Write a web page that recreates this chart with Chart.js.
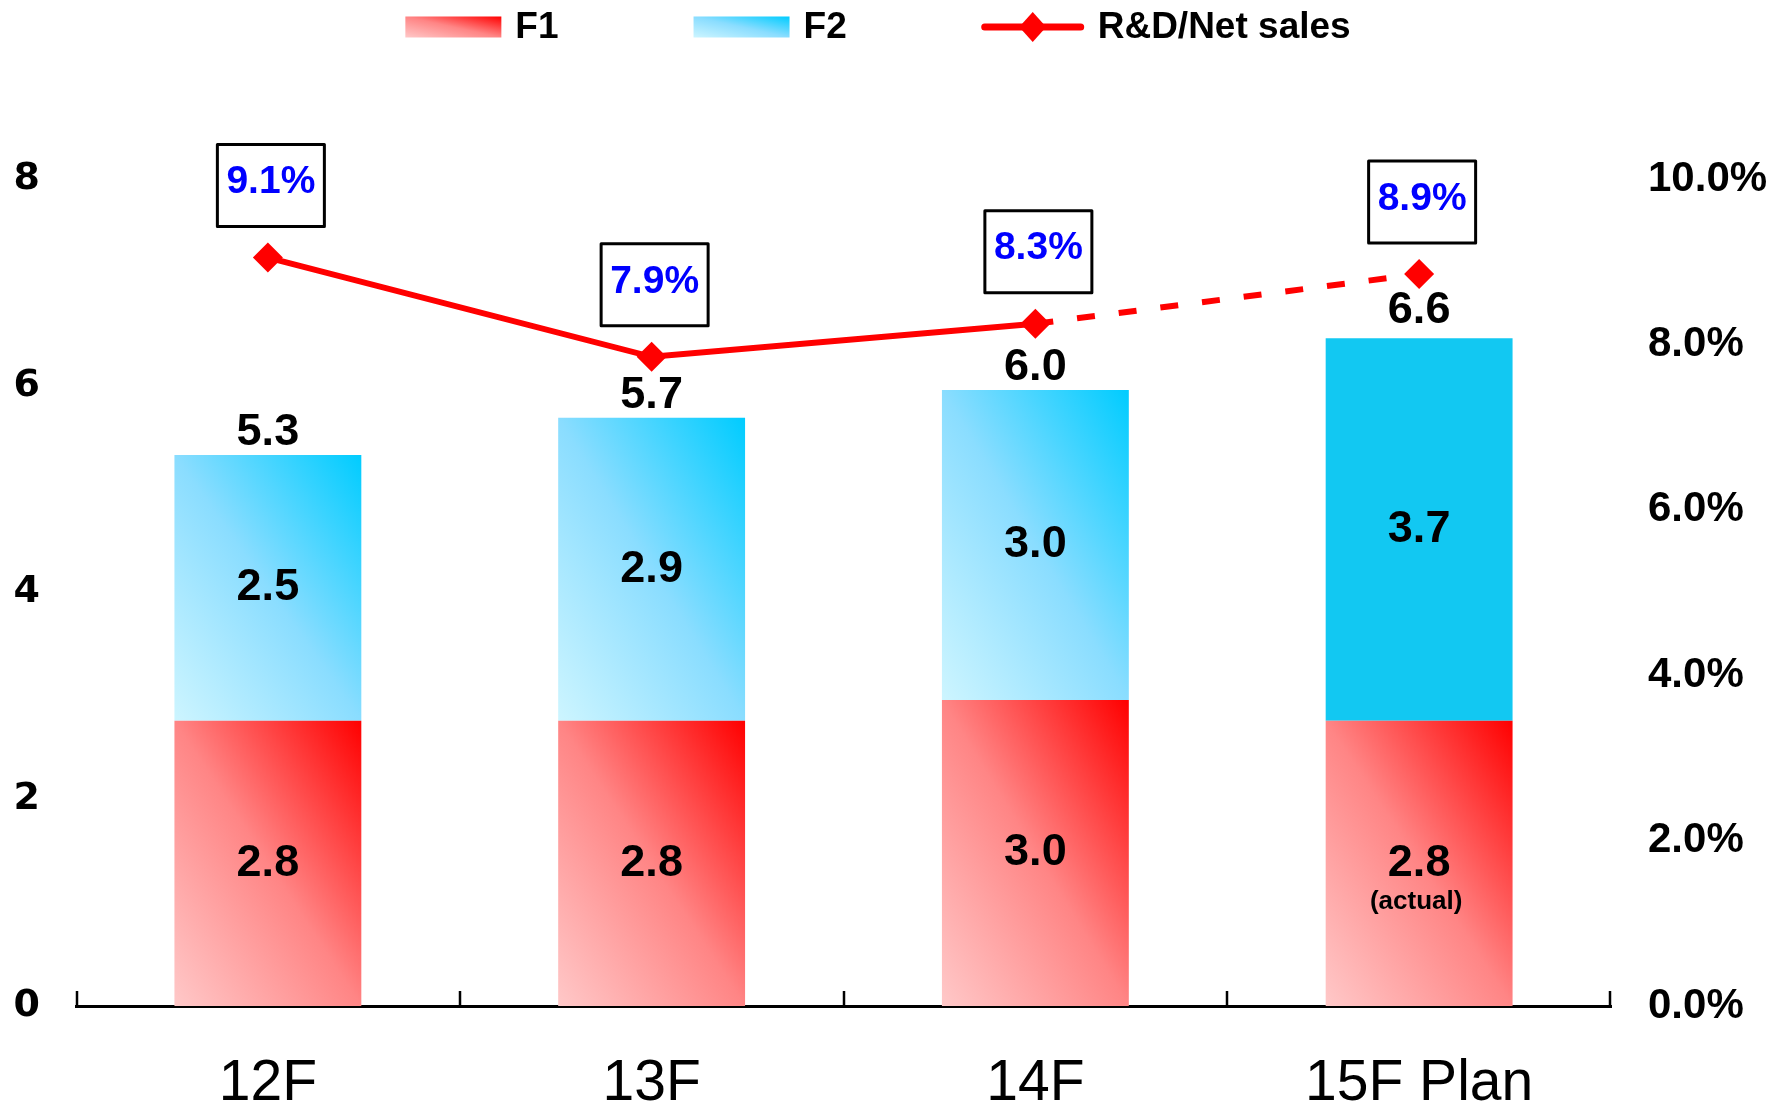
<!DOCTYPE html>
<html>
<head>
<meta charset="utf-8">
<script src="https://cdn.jsdelivr.net/npm/chart.js@4.4.1/dist/chart.umd.min.js"></script>
<style>
html,body{margin:0;padding:0;background:#ffffff;}
#wrap{width:1776px;height:1114px;position:relative;}
</style>
</head>
<body>
<div id="wrap"><canvas id="c"></canvas></div>
<script>
// ---- data ----
const categories = ['12F', '13F', '14F', '15F Plan'];
const f1Values = [2.76, 2.76, 2.96, 2.76];
const f2Values = [2.57, 2.93, 3.00, 3.70];
const ratioValues = [9.05, 7.85, 8.25, 8.85];
const f1Labels = ['2.8', '2.8', '3.0', '2.8'];
const f2Labels = ['2.5', '2.9', '3.0', '3.7'];
const totalLabels = ['5.3', '5.7', '6.0', '6.6'];
const ratioLabels = ['9.1%', '7.9%', '8.3%', '8.9%'];
const leftTicks = [0, 2, 4, 6, 8];
const rightTicks = [0, 2, 4, 6, 8, 10];
const seriesNames = ['F1', 'F2', 'R&D/Net sales'];
const planNote = '(actual)';
const planIndex = 3;

// ---- styles ----
const SANS = '"Liberation Sans", Arial, sans-serif';
const Y_MAX = 9.13;
const Y1_MAX = Y_MAX * 1.25;
const BAR_PCT = 0.487;
const f1Stops = [[0, '#FFC8C8'], [0.5, '#FF8585'], [1, '#FF0000']];
const f2Stops = [[0, '#CDF5FF'], [0.5, '#8ADDFF'], [1, '#00CCFF']];
const planF2Color = '#12C8F2';

function diagGradient(ctx, left, top, w, h, stops) {
  // bottom-left -> top-right, isolines through the other two corners
  const k = 2 / (1 / (w * w) + 1 / (h * h));
  const x0 = left, y0 = top + h;
  const g = ctx.createLinearGradient(x0, y0, x0 + k / w, y0 - k / h);
  stops.forEach(s => g.addColorStop(s[0], s[1]));
  return g;
}

function barFill(c, series) {
  const stops = series === 0 ? f1Stops : f2Stops;
  const fallback = stops[1][1];
  if (c.type !== 'data') return fallback;
  const i = c.dataIndex;
  if (series === 1 && i === planIndex) return planF2Color;
  const chart = c.chart;
  const xs = chart.scales.x, ys = chart.scales.y;
  if (!chart.chartArea || !xs || !ys) return fallback;
  const cx = xs.getPixelForValue(i);
  const w = xs.width / categories.length * BAR_PCT;
  const lo = series === 0 ? 0 : f1Values[i];
  const hi = series === 0 ? f1Values[i] : f1Values[i] + f2Values[i];
  const yb = ys.getPixelForValue(lo), yt = ys.getPixelForValue(hi);
  return diagGradient(chart.ctx, cx - w / 2, yt, w, yb - yt, stops);
}

const labelsPlugin = {
  id: 'valueLabels',
  afterDatasetsDraw(chart) {
    const ctx = chart.ctx;
    const mLine = chart.getDatasetMeta(0);
    const m1 = chart.getDatasetMeta(1);
    const m2 = chart.getDatasetMeta(2);
    ctx.save();
    ctx.textAlign = 'center';
    ctx.textBaseline = 'middle';
    ctx.fillStyle = '#000';
    m1.data.forEach((el, i) => {
      const cy = (el.y + el.base) / 2;
      ctx.font = 'bold 45px ' + SANS;
      ctx.fillText(f1Labels[i], el.x, cy);
      if (i === planIndex) {
        ctx.font = 'bold 26px ' + SANS;
        ctx.fillText(planNote, el.x - 3, cy + 38);
      }
    });
    ctx.font = 'bold 45px ' + SANS;
    m2.data.forEach((el, i) => {
      ctx.fillText(f2Labels[i], el.x, (el.y + el.base) / 2);
      ctx.fillText(totalLabels[i], el.x, el.y - (i === planIndex ? 28 : 22));
    });
    // ratio boxes
    const bw = 107, bh = 82;
    mLine.data.forEach((pt, i) => {
      const cx = pt.x + 3, cy = pt.y - 72;
      ctx.fillStyle = '#ffffff';
      ctx.fillRect(cx - bw / 2, cy - bh / 2, bw, bh);
      ctx.lineWidth = 3;
      ctx.lineJoin = 'round';
      ctx.strokeStyle = '#000';
      ctx.strokeRect(cx - bw / 2, cy - bh / 2, bw, bh);
      ctx.fillStyle = '#0000FF';
      ctx.font = 'bold 39px ' + SANS;
      ctx.fillText(ratioLabels[i], cx, cy - 3);
    });
    ctx.restore();
  }
};

const decoPlugin = {
  id: 'deco',
  afterDraw(chart) {
    const ctx = chart.ctx;
    const xs = chart.scales.x;
    ctx.save();
    // upward category tick marks
    const n = categories.length;
    const step = xs.width / n;
    ctx.strokeStyle = '#000';
    ctx.lineWidth = 2.5;
    for (let i = 0; i <= n; i++) {
      const x = Math.round(xs.left + i * step) + (i === 0 ? 1 : (i === n ? -1 : 0));
      ctx.beginPath();
      ctx.moveTo(x, xs.top);
      ctx.lineTo(x, xs.top - 15);
      ctx.stroke();
    }
    // legend
    ctx.font = 'bold 37px ' + SANS;
    ctx.textBaseline = 'middle';
    ctx.textAlign = 'left';
    const swW = 96, swH = 21, lineW = 102, gapText = 14, gapItem = 135, cy = 27;
    const symW = [swW, swW, lineW];
    const tw = seriesNames.map(s => ctx.measureText(s).width);
    let total = gapItem * 2;
    for (let i = 0; i < 3; i++) total += symW[i] + gapText + tw[i];
    let x = chart.width / 2 - 10 - total / 2;
    for (let i = 0; i < 3; i++) {
      if (i < 2) {
        ctx.fillStyle = diagGradient(ctx, x, cy - swH / 2, swW, swH, i === 0 ? f1Stops : f2Stops);
        ctx.fillRect(x, cy - swH / 2, swW, swH);
      } else {
        ctx.strokeStyle = '#FF0000';
        ctx.lineWidth = 7;
        ctx.lineCap = 'round';
        ctx.beginPath();
        ctx.moveTo(x + 3, cy);
        ctx.lineTo(x + lineW - 3, cy);
        ctx.stroke();
        ctx.fillStyle = '#FF0000';
        const mx = x + lineW / 2, r = 15;
        ctx.beginPath();
        ctx.moveTo(mx, cy - r); ctx.lineTo(mx + r * 0.9, cy); ctx.lineTo(mx, cy + r); ctx.lineTo(mx - r * 0.9, cy);
        ctx.closePath();
        ctx.fill();
      }
      x += symW[i] + gapText;
      ctx.fillStyle = '#000';
      ctx.fillText(seriesNames[i], x, cy + 1);
      x += tw[i] + gapItem;
    }
    ctx.restore();
  }
};

new Chart(document.getElementById('c'), {
  data: {
    labels: categories,
    datasets: [
      {
        type: 'line', label: seriesNames[2], data: ratioValues, yAxisID: 'y1', order: 0,
        borderColor: '#FF0000', borderWidth: 6, tension: 0, fill: false,
        pointStyle: 'rectRot', pointRadius: 15, pointHoverRadius: 15,
        pointBackgroundColor: '#FF0000', pointBorderColor: '#FF0000', pointBorderWidth: 0,
        segment: { borderDash: c => (c.p1DataIndex === planIndex ? [18, 24] : undefined) }
      },
      {
        type: 'bar', label: seriesNames[0], data: f1Values, yAxisID: 'y', stack: 's', order: 1,
        backgroundColor: c => barFill(c, 0), borderWidth: 0,
        barPercentage: BAR_PCT, categoryPercentage: 1
      },
      {
        type: 'bar', label: seriesNames[1], data: f2Values, yAxisID: 'y', stack: 's', order: 1,
        backgroundColor: c => barFill(c, 1), borderWidth: 0,
        barPercentage: BAR_PCT, categoryPercentage: 1
      }
    ]
  },
  options: {
    responsive: true,
    maintainAspectRatio: false,
    animation: false,
    layout: { padding: { top: 60, left: 0, right: 0, bottom: 0 } },
    plugins: { legend: { display: false }, tooltip: { enabled: false } },
    scales: {
      x: {
        stacked: true, offset: true,
        grid: { display: false, drawTicks: false },
        border: { display: true, color: '#000', width: 3 },
        ticks: { font: { family: SANS, size: 57 }, color: '#000', padding: 44, maxRotation: 0, autoSkip: false },
        afterFit: s => { s.height = 108; }
      },
      y: {
        stacked: true, position: 'left', min: 0, max: Y_MAX,
        grid: { display: false, drawTicks: false },
        border: { display: false },
        ticks: { font: { family: '"DejaVu Sans", sans-serif', weight: 'bold', size: 38 }, color: '#000', padding: 36 },
        afterBuildTicks: s => { s.ticks = leftTicks.map(v => ({ value: v })); },
        afterFit: s => { s.width = 76; }
      },
      y1: {
        position: 'right', min: 0, max: Y1_MAX,
        grid: { display: false, drawTicks: false },
        border: { display: false },
        ticks: { font: { family: SANS, weight: 'bold', size: 42 }, color: '#000', padding: 37,
                 callback: v => Number(v).toFixed(1) + '%' },
        afterBuildTicks: s => { s.ticks = rightTicks.map(v => ({ value: v })); },
        afterFit: s => { s.width = 165; }
      }
    }
  },
  plugins: [labelsPlugin, decoPlugin]
});
</script>
</body>
</html>
